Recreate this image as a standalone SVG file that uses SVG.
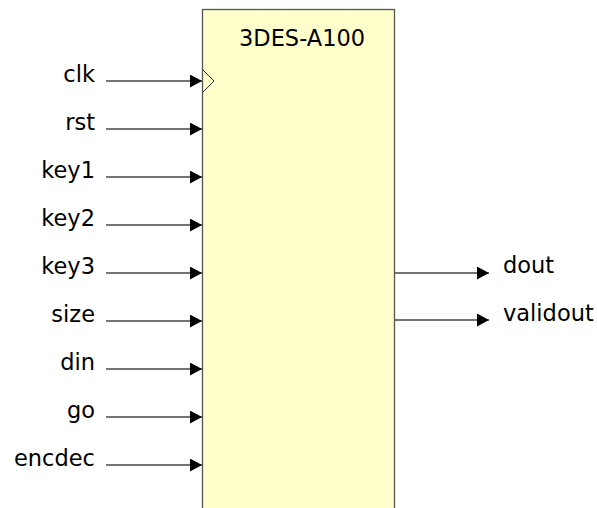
<svg xmlns="http://www.w3.org/2000/svg" width="597" height="508" viewBox="0 0 597 508">
<style>
text{font-family:"DejaVu Sans",Verdana,sans-serif;font-size:22.5px;fill:#000}
.in{text-anchor:end}
.w{stroke:#444;stroke-width:1.4;fill:none}
.ah{fill:#000}
</style>
<defs>
<marker id="arr" viewBox="0 0 12 13" refX="12" refY="6.5" markerWidth="12" markerHeight="13" markerUnits="userSpaceOnUse" orient="auto">
<path d="M0,0 L12,6.5 L0,13 Z" class="ah"/>
</marker>
</defs>
<g id="block">
<rect x="202.5" y="9.5" width="192" height="510" fill="#FFFFCC" stroke="#555" stroke-width="1.3"/>
<text x="239" y="45.5">3DES-A100</text>
<path d="M202.5,69.5 L214,81 L202.5,92.5" fill="none" stroke="#333" stroke-width="1"/>
</g>
<g id="connectors">
<line class="w" x1="106" y1="81" x2="202" y2="81" marker-end="url(#arr)"/>
<line class="w" x1="106" y1="129" x2="202" y2="129" marker-end="url(#arr)"/>
<line class="w" x1="106" y1="177" x2="202" y2="177" marker-end="url(#arr)"/>
<line class="w" x1="106" y1="225" x2="202" y2="225" marker-end="url(#arr)"/>
<line class="w" x1="106" y1="273" x2="202" y2="273" marker-end="url(#arr)"/>
<line class="w" x1="106" y1="321" x2="202" y2="321" marker-end="url(#arr)"/>
<line class="w" x1="106" y1="369" x2="202" y2="369" marker-end="url(#arr)"/>
<line class="w" x1="106" y1="417" x2="202" y2="417" marker-end="url(#arr)"/>
<line class="w" x1="106" y1="465" x2="202" y2="465" marker-end="url(#arr)"/>
<line class="w" x1="395" y1="273" x2="489" y2="273" marker-end="url(#arr)"/>
<line class="w" x1="395" y1="320" x2="489" y2="320" marker-end="url(#arr)"/>
</g>
<g id="port-clk"><text class="in" x="95" y="82">clk</text></g>
<g id="port-rst"><text class="in" x="95" y="130">rst</text></g>
<g id="port-key1"><text class="in" x="95" y="178">key1</text></g>
<g id="port-key2"><text class="in" x="95" y="226">key2</text></g>
<g id="port-key3"><text class="in" x="95" y="274">key3</text></g>
<g id="port-size"><text class="in" x="95" y="322">size</text></g>
<g id="port-din"><text class="in" x="95" y="370">din</text></g>
<g id="port-go"><text class="in" x="95" y="418">go</text></g>
<g id="port-encdec"><text class="in" x="95" y="466">encdec</text></g>
<g id="port-dout"><text x="503" y="273">dout</text></g>
<g id="port-validout"><text x="503" y="321">validout</text></g>
</svg>
